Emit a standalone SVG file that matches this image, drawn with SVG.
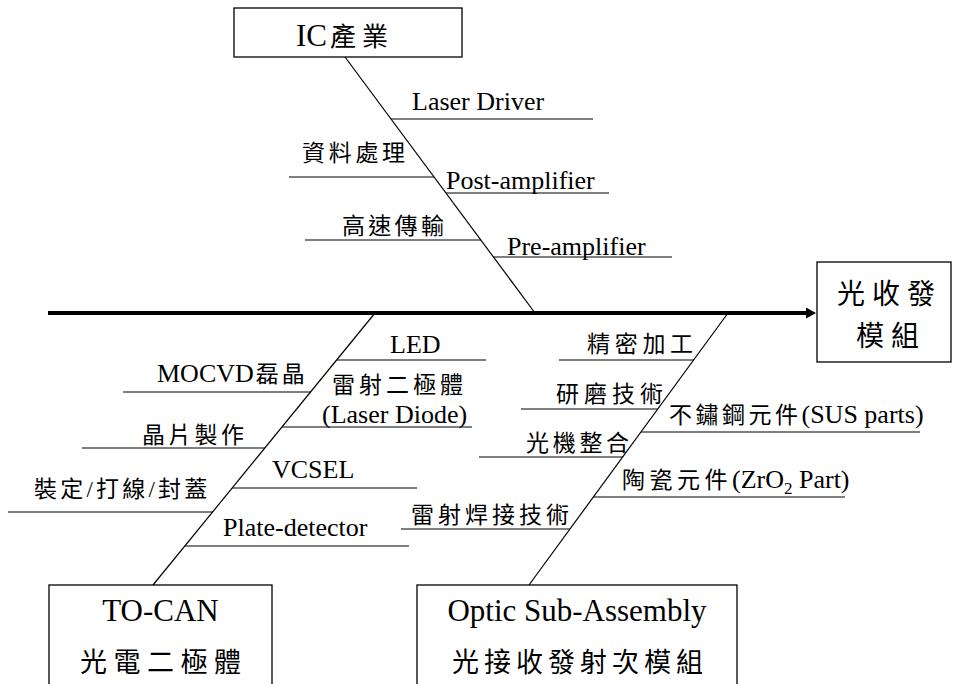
<svg xmlns="http://www.w3.org/2000/svg" width="953" height="684" viewBox="0 0 953 684">
<style>
.t{font-family:'Liberation Serif','Noto Sans CJK TC',serif;fill:#000}
.l{font-size:26px}
.c{font-size:23px}
.bl{font-size:31px}
.bc{font-size:27px}
.rib{stroke:#000;stroke-width:1.2;fill:none}
.bone{stroke:#000;stroke-width:1.2;fill:none}
.box{fill:#fff;stroke:#000;stroke-width:1.3}
</style>
<defs>
<marker id="arr" markerUnits="userSpaceOnUse" markerWidth="12" markerHeight="12" refX="1" refY="5.5" orient="auto">
<path d="M0,0 L10,5.5 L0,11 z" fill="#000"/>
</marker>
</defs>
<rect width="953" height="684" fill="#fff"/>

<g id="connectors">
<line x1="48" y1="313" x2="807" y2="313" stroke="#000" stroke-width="4" marker-end="url(#arr)"/>
<line class="bone" x1="345" y1="57" x2="535" y2="313"/>
<line class="bone" x1="375" y1="313" x2="153" y2="585"/>
<line class="bone" x1="728" y1="313" x2="529" y2="585"/>
</g>

<g id="ribs">
<g id="rib-laser-driver"><line class="rib" x1="391" y1="119" x2="593" y2="119"/><text class="t l" x="412" y="110">Laser Driver</text></g>
<g id="rib-data"><line class="rib" x1="289" y1="177" x2="434" y2="177"/><text class="t c" x="302" y="161" letter-spacing="3.7">資料處理</text></g>
<g id="rib-post"><line class="rib" x1="446" y1="193" x2="609" y2="193"/><text class="t l" x="446" y="189">Post-amplifier</text></g>
<g id="rib-highspeed"><line class="rib" x1="305" y1="240" x2="481" y2="240"/><text class="t c" x="342" y="234" letter-spacing="3.3">高速傳輸</text></g>
<g id="rib-pre"><line class="rib" x1="493" y1="257" x2="672" y2="257"/><text class="t l" x="507" y="255">Pre-amplifier</text></g>

<g id="rib-led"><line class="rib" x1="337" y1="360" x2="486" y2="360"/><text class="t l" x="390" y="353">LED</text></g>
<g id="rib-mocvd"><line class="rib" x1="123" y1="392" x2="311" y2="392"/><text class="t l" x="157" y="382">MOCVD<tspan class="c" dx="2" letter-spacing="3">磊晶</tspan></text></g>
<g id="rib-ld"><line class="rib" x1="282" y1="427" x2="472" y2="427"/><text class="t c" x="332" y="393" letter-spacing="4">雷射二極體</text><text class="t l" x="322" y="423">(Laser Diode)</text></g>
<g id="rib-wafer"><line class="rib" x1="82" y1="448" x2="265" y2="448"/><text class="t c" x="142" y="443" letter-spacing="3.3">晶片製作</text></g>
<g id="rib-vcsel"><line class="rib" x1="232" y1="488" x2="417" y2="488"/><text class="t l" x="272" y="478">VCSEL</text></g>
<g id="rib-package"><line class="rib" x1="8" y1="512" x2="213" y2="512"/><text class="t c" x="34" y="497" letter-spacing="3.2">裝定/打線/封蓋</text></g>
<g id="rib-plate"><line class="rib" x1="185" y1="546" x2="409" y2="546"/><text class="t l" x="223" y="536">Plate-detector</text></g>

<g id="rib-precision"><line class="rib" x1="559" y1="360" x2="694" y2="360"/><text class="t c" x="587" y="352" letter-spacing="4.7">精密加工</text></g>
<g id="rib-grinding"><line class="rib" x1="521" y1="409" x2="658" y2="409"/><text class="t c" x="556" y="402" letter-spacing="5">研磨技術</text></g>
<g id="rib-sus"><line class="rib" x1="641" y1="432" x2="920" y2="432"/><text class="t l" x="669" y="423"><tspan class="c" letter-spacing="3.5">不鏽鋼元件</tspan>(SUS parts)</text></g>
<g id="rib-optomech"><line class="rib" x1="479" y1="457" x2="623" y2="457"/><text class="t c" x="526" y="451" letter-spacing="3.7">光機整合</text></g>
<g id="rib-ceramic"><line class="rib" x1="593" y1="497" x2="845" y2="497"/><text class="t l" x="622" y="488"><tspan class="c" letter-spacing="4.5">陶瓷元件</tspan>(ZrO<tspan font-size="17" dy="6">2</tspan><tspan dy="-6"> Part)</tspan></text></g>
<g id="rib-welding"><line class="rib" x1="401" y1="529" x2="570" y2="529"/><text class="t c" x="411" y="523" letter-spacing="4">雷射焊接技術</text></g>
</g>

<g id="node-ic">
<rect class="box" x="234" y="8" width="228" height="49"/>
<text class="t bl" x="296" y="46">IC<tspan font-size="26" dx="3" letter-spacing="6">產業</tspan></text>
</g>

<g id="node-module">
<rect class="box" x="817" y="262" width="134" height="100"/>
<text class="t" font-size="28" x="837" y="304" letter-spacing="7">光收發</text>
<text class="t" font-size="28" x="856" y="346" letter-spacing="7">模組</text>
</g>

<g id="node-tocan">
<rect class="box" x="49" y="585" width="223" height="110"/>
<text class="t bl" x="160.5" y="621" text-anchor="middle">TO-CAN</text>
<text class="t bc" x="80" y="672" letter-spacing="6.5">光電二極體</text>
</g>

<g id="node-osa">
<rect class="box" x="417" y="585" width="320" height="110"/>
<text class="t bl" x="577" y="621" text-anchor="middle">Optic Sub-Assembly</text>
<text class="t bc" x="452" y="672" letter-spacing="5">光接收發射次模組</text>
</g>
</svg>
